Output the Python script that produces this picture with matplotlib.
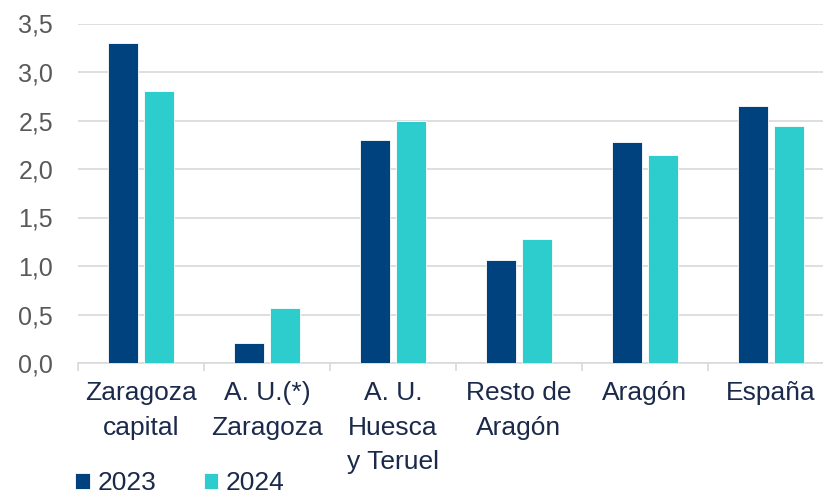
import matplotlib
matplotlib.use("Agg")
import matplotlib.pyplot as plt
import numpy as np
from matplotlib.ticker import FuncFormatter, FixedLocator

categories = ["Zaragoza\ncapital", "A. U.(*)\nZaragoza", "A. U.\nHuesca\ny Teruel",
              "Resto de\nAragón", "Aragón", "España"]
values_2023 = [3.30, 0.21, 2.30, 1.06, 2.28, 2.65]
values_2024 = [2.80, 0.57, 2.49, 1.28, 2.14, 2.44]
series_labels = ["2023", "2024"]
y_ticks = [0.0, 0.5, 1.0, 1.5, 2.0, 2.5, 3.0, 3.5]

dark = "#00427E"
teal = "#2ECDCD"
label_color = "#1B2A4A"
ytick_color = "#595959"
grid_color = "#D9D9D9"

plt.rcParams["font.family"] = ["Liberation Sans", "DejaVu Sans"]

fig = plt.figure(figsize=(8.23, 4.95), dpi=100)
ax = fig.add_axes([78 / 823, 132 / 495, 756 / 823, 339.5 / 495])

x = np.arange(len(categories))
bw = 0.235
off = 0.143
ax.bar(x - off, values_2023, bw, color=dark, edgecolor="white", linewidth=0.6,
       label=series_labels[0], zorder=3)
ax.bar(x + off, values_2024, bw, color=teal, edgecolor="white", linewidth=0.6,
       label=series_labels[1], zorder=3)

ax.set_xlim(-0.5, len(categories) - 0.5)
ax.set_ylim(0, 3.5)
ax.set_yticks(y_ticks)
ax.yaxis.set_major_formatter(FuncFormatter(lambda v, p: f"{v:.1f}".replace(".", ",")))
ax.grid(axis="y", color=grid_color, linewidth=1.2, zorder=0)
ax.set_axisbelow(True)

for s in ["top", "right", "left"]:
    ax.spines[s].set_visible(False)
ax.spines["bottom"].set_color(grid_color)
ax.spines["bottom"].set_linewidth(1.2)

ax.set_xticks(x)
ax.set_xticklabels(categories, fontsize=19, color=label_color, linespacing=1.55)
ax.tick_params(axis="x", which="major", length=0, pad=13)
ax.xaxis.set_minor_locator(FixedLocator(np.arange(-0.5, len(categories), 1.0)))
ax.tick_params(axis="x", which="minor", length=6, color=grid_color, width=1.2)
ax.tick_params(axis="y", length=0, pad=18, labelsize=18, labelcolor=ytick_color)

fig.legend(loc="center left", bbox_to_anchor=(75 / 823, 12 / 495), ncol=2, frameon=False,
           fontsize=19, handlelength=0.55, handleheight=0.55, handletextpad=0.3,
           columnspacing=1.8, borderpad=0, borderaxespad=0, labelcolor=label_color)

fig.savefig("out.png", dpi=100)
